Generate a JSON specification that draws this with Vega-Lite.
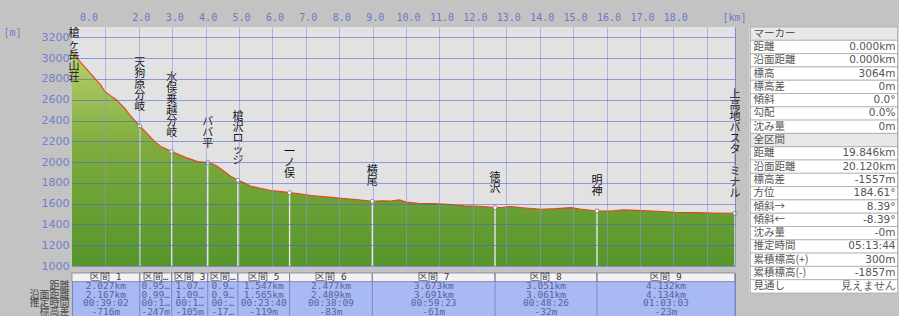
{
  "$schema": "https://vega.github.io/schema/vega-lite/v6.json",
  "background": "#c3c3c3",
  "padding": 0,
  "spacing": 3,
  "config": {"view": {"stroke": null}, "font": "DejaVu Sans"},
  "datasets": {
    "profile": [
      {"km": 0, "elev": 3064}, {"km": 0.1, "elev": 3025}, {"km": 0.22, "elev": 2973}, {"km": 0.45, "elev": 2890},
      {"km": 0.67, "elev": 2811}, {"km": 0.85, "elev": 2745}, {"km": 0.97, "elev": 2683}, {"km": 1.15, "elev": 2640},
      {"km": 1.32, "elev": 2603}, {"km": 1.47, "elev": 2554}, {"km": 1.6, "elev": 2510}, {"km": 1.72, "elev": 2458},
      {"km": 1.88, "elev": 2400}, {"km": 2.027, "elev": 2348}, {"km": 2.2, "elev": 2290}, {"km": 2.37, "elev": 2232},
      {"km": 2.5, "elev": 2190}, {"km": 2.66, "elev": 2151}, {"km": 2.8, "elev": 2128}, {"km": 2.985, "elev": 2101},
      {"km": 3.2, "elev": 2072}, {"km": 3.46, "elev": 2038}, {"km": 3.76, "elev": 2006}, {"km": 4.063, "elev": 1996},
      {"km": 4.2, "elev": 1985}, {"km": 4.36, "elev": 1958}, {"km": 4.56, "elev": 1910}, {"km": 4.75, "elev": 1865},
      {"km": 4.966, "elev": 1825}, {"km": 5.15, "elev": 1800}, {"km": 5.36, "elev": 1768}, {"km": 5.6, "elev": 1750},
      {"km": 5.96, "elev": 1726}, {"km": 6.2, "elev": 1718}, {"km": 6.513, "elev": 1706}, {"km": 6.8, "elev": 1695},
      {"km": 7.16, "elev": 1678}, {"km": 7.6, "elev": 1665}, {"km": 8.05, "elev": 1652}, {"km": 8.5, "elev": 1640},
      {"km": 8.99, "elev": 1623}, {"km": 9.3, "elev": 1628}, {"km": 9.55, "elev": 1626}, {"km": 9.8, "elev": 1636},
      {"km": 10.0, "elev": 1615}, {"km": 10.35, "elev": 1604}, {"km": 10.8, "elev": 1600}, {"km": 11.25, "elev": 1594},
      {"km": 11.75, "elev": 1579}, {"km": 12.2, "elev": 1575}, {"km": 12.663, "elev": 1562}, {"km": 12.9, "elev": 1566},
      {"km": 13.14, "elev": 1572}, {"km": 13.5, "elev": 1560}, {"km": 14.04, "elev": 1546}, {"km": 14.5, "elev": 1552},
      {"km": 14.94, "elev": 1562}, {"km": 15.2, "elev": 1548}, {"km": 15.714, "elev": 1530}, {"km": 16.2, "elev": 1532},
      {"km": 16.5, "elev": 1540}, {"km": 17.04, "elev": 1533}, {"km": 17.5, "elev": 1527}, {"km": 18.03, "elev": 1517},
      {"km": 18.6, "elev": 1514}, {"km": 19.2, "elev": 1510}, {"km": 19.846, "elev": 1507}
    ],
    "waypoints": [
      {"name": "槍ヶ岳山荘", "km": 0, "elev": 3064},
      {"name": "天狗原分岐", "km": 2.027, "elev": 2348},
      {"name": "水俣乗越分岐", "km": 2.985, "elev": 2101},
      {"name": "ババ平", "km": 4.063, "elev": 1996},
      {"name": "槍沢ロッジ", "km": 4.966, "elev": 1825},
      {"name": "一ノ俣", "km": 6.513, "elev": 1706},
      {"name": "横尾", "km": 8.99, "elev": 1623},
      {"name": "徳沢", "km": 12.663, "elev": 1562},
      {"name": "明神", "km": 15.714, "elev": 1530},
      {"name": "上高地バスターミナル", "km": 19.846, "elev": 1507}
    ],
    "segments": [
      {"label": "区間 1", "start": 0, "end": 2.027, "dist": "2.027km", "surf": "2.167km", "time": "00:39:02", "diff": "-716m"},
      {"label": "区間 2", "start": 2.027, "end": 2.985, "dist": "0.958km", "surf": "0.996km", "time": "00:13:45", "diff": "-247m"},
      {"label": "区間 3", "start": 2.985, "end": 4.063, "dist": "1.078km", "surf": "1.092km", "time": "00:16:04", "diff": "-105m"},
      {"label": "区間 4", "start": 4.063, "end": 4.966, "dist": "0.903km", "surf": "0.923km", "time": "00:12:12", "diff": "-171m"},
      {"label": "区間 5", "start": 4.966, "end": 6.513, "dist": "1.547km", "surf": "1.565km", "time": "00:23:40", "diff": "-119m"},
      {"label": "区間 6", "start": 6.513, "end": 8.99, "dist": "2.477km", "surf": "2.489km", "time": "00:38:09", "diff": "-83m"},
      {"label": "区間 7", "start": 8.99, "end": 12.663, "dist": "3.673km", "surf": "3.691km", "time": "00:59:23", "diff": "-61m"},
      {"label": "区間 8", "start": 12.663, "end": 15.714, "dist": "3.051km", "surf": "3.061km", "time": "00:48:26", "diff": "-32m"},
      {"label": "区間 9", "start": 15.714, "end": 19.846, "dist": "4.132km", "surf": "4.134km", "time": "01:03:03", "diff": "-23m"}
    ],
    "panel": [
      {"slot": 0, "kind": "h", "label": "マーカー", "value": ""},
      {"slot": 1, "kind": "r", "label": "距離", "value": "0.000km"},
      {"slot": 2, "kind": "r", "label": "沿面距離", "value": "0.000km"},
      {"slot": 3, "kind": "r", "label": "標高", "value": "3064m"},
      {"slot": 4, "kind": "r", "label": "標高差", "value": "0m"},
      {"slot": 5, "kind": "r", "label": "傾斜", "value": "0.0°"},
      {"slot": 6, "kind": "r", "label": "勾配", "value": "0.0%"},
      {"slot": 7, "kind": "r", "label": "沈み量", "value": "0m"},
      {"slot": 8, "kind": "h", "label": "全区間", "value": ""},
      {"slot": 9, "kind": "r", "label": "距離", "value": "19.846km"},
      {"slot": 10, "kind": "r", "label": "沿面距離", "value": "20.120km"},
      {"slot": 11, "kind": "r", "label": "標高差", "value": "-1557m"},
      {"slot": 12, "kind": "r", "label": "方位", "value": "184.61°"},
      {"slot": 13, "kind": "r", "label": "傾斜→", "value": "8.39°"},
      {"slot": 14, "kind": "r", "label": "傾斜←", "value": "-8.39°"},
      {"slot": 15, "kind": "r", "label": "沈み量", "value": "-0m"},
      {"slot": 16, "kind": "r", "label": "推定時間", "value": "05:13:44"},
      {"slot": 17, "kind": "r", "label": "累積標高(+)", "value": "300m"},
      {"slot": 18, "kind": "r", "label": "累積標高(-)", "value": "-1857m"},
      {"slot": 19, "kind": "r", "label": "見通し", "value": "見えません"}
    ]
  },
  "hconcat": [
    {
      "spacing": 0,
      "vconcat": [
        {
          "width": 663,
          "height": 239,
          "view": {"fill": "#e2e2e2", "stroke": null},
          "encoding": {
            "x": {
              "field": "km", "type": "quantitative",
              "scale": {"domain": [0, 19.846], "nice": false, "zero": false},
              "axis": {
                "orient": "top",
                "values": [1, 2, 3, 4, 5, 6, 7, 8, 9, 10, 11, 12, 13, 14, 15, 16, 17, 18, 19, 19.846],
                "labelExpr": "datum.value == 1 ? '0.0' : (datum.value > 18.5 ? '' : format(datum.value, '.1f'))",
                "labelFont": "DejaVu Sans Mono", "labelFontSize": 10, "labelColor": "#6a78c8",
                "labelPadding": 5, "labelFlush": false, "labelOverlap": false,
                "labelOffset": {"condition": {"test": "datum.value == 1", "value": -17}, "value": 2},
                "ticks": false, "domain": false, "grid": true,
                "gridColor": {"condition": {"test": "datum.value > 19.5", "value": "#5a64c0"}, "value": "#8a94dc"},
                "gridOpacity": 0.6,
                "title": "[km]", "titleX": 674, "titleY": -10, "titleAlign": "right", "titleBaseline": "middle",
                "titleAngle": 0, "titleFont": "DejaVu Sans Mono", "titleFontSize": 10, "titleFontWeight": "normal",
                "titleColor": "#6a78c8",
                "minExtent": 27, "maxExtent": 27, "zindex": 1
              }
            },
            "y": {
              "field": "elev", "type": "quantitative",
              "scale": {"domain": [1000, 3300], "nice": false, "zero": false},
              "axis": {
                "values": [1000, 1200, 1400, 1600, 1800, 2000, 2200, 2400, 2600, 2800, 3000, 3200],
                "format": "d",
                "labelFont": "DejaVu Sans", "labelFontSize": 11, "labelColor": "#7080cc",
                "labelPadding": 3, "labelOverlap": false, "labelFlush": false,
                "ticks": false, "domain": false, "grid": true,
                "gridColor": "#4c5cd0", "gridOpacity": 0.55,
                "title": "[m]", "titleAngle": 0, "titleX": -60, "titleY": 5, "titleAlign": "center",
                "titleBaseline": "middle", "titleFont": "DejaVu Sans Mono", "titleFontSize": 10,
                "titleFontWeight": "normal", "titleColor": "#7080cc",
                "minExtent": 71, "maxExtent": 71, "zindex": 1
              }
            }
          },
          "layer": [
            {
              "data": {"name": "profile"},
              "mark": {
                "type": "area",
                "color": {
                  "gradient": "linear", "x1": 0, "y1": 0, "x2": 0, "y2": 1,
                  "stops": [
                    {"offset": 0, "color": "#b8d26c"},
                    {"offset": 0.45, "color": "#7eab3c"},
                    {"offset": 1, "color": "#55952c"}
                  ]
                }
              },
              "encoding": {"y2": {"datum": 1000}}
            },
            {
              "data": {"name": "profile"},
              "mark": {"type": "line", "color": "#e8401c", "strokeWidth": 1.1},
              "encoding": {}
            },
            {
              "data": {"name": "waypoints"},
              "transform": [{"filter": "datum.km > 0"}],
              "mark": {"type": "rule", "color": "#e6e6e6", "strokeWidth": 1.4},
              "encoding": {"y2": {"datum": 1000}}
            },
            {
              "data": {"name": "waypoints"},
              "transform": [{"filter": "datum.km > 0"}],
              "mark": {"type": "point", "shape": "circle", "filled": true, "fill": "#ffffff", "stroke": "#777777", "strokeWidth": 0.8, "size": 16, "opacity": 1},
              "encoding": {}
            },
            {
              "data": {"name": "waypoints"},
              "transform": [
                {"filter": "datum.km > 0"},
                {"calculate": "split(replace(datum.name, 'ー', '｜'), '')", "as": "lbl"}
              ],
              "mark": {"type": "text", "baseline": "top", "align": "center", "dy": {"expr": "-14 - length(datum.lbl) * 11"}, "font": "Noto Sans CJK JP", "fontSize": 11, "lineHeight": 11, "color": "#111111"},
              "encoding": {"text": {"field": "lbl", "type": "nominal"}}
            },
            {
              "data": {"name": "waypoints"},
              "transform": [
                {"filter": "datum.km == 0"},
                {"calculate": "split(datum.name, '')", "as": "lbl"}
              ],
              "mark": {"type": "text", "baseline": "top", "align": "center", "dx": 2, "dy": 1, "font": "Noto Sans CJK JP", "fontSize": 11, "lineHeight": 11, "color": "#111111"},
              "encoding": {"y": {"datum": 3300}, "text": {"field": "lbl", "type": "nominal"}}
            }
          ]
        },
        {
          "width": 663,
          "height": 43,
          "view": {"fill": "#a9b9f5", "stroke": "#7b84b8"},
          "layer": [
            {
              "data": {"name": "segments"},
              "mark": {"type": "rect", "fill": "#f3f3f3", "stroke": "#6f7090", "strokeWidth": 0.7},
              "encoding": {
                "x": {"field": "start", "type": "quantitative", "scale": {"domain": [0, 19.846], "nice": false, "zero": false}, "axis": null},
                "x2": {"field": "end"},
                "y": {"datum": "label", "type": "nominal"}
              }
            },
            {
              "data": {"name": "segments"},
              "mark": {"type": "rule", "color": "#8088bc", "strokeWidth": 1},
              "encoding": {"x": {"field": "end", "type": "quantitative"}}
            },
            {
              "data": {"name": "segments"},
              "transform": [
                {"calculate": "(datum.start + datum.end) / 2", "as": "mid"},
                {"fold": ["label", "dist", "surf", "time", "diff"], "as": ["row", "txt"]}
              ],
              "mark": {"type": "text", "font": "DejaVu Sans Mono", "fontSize": 9.5, "baseline": "middle", "align": "center", "limit": {"expr": "(datum.end - datum.start) * 33.4 - 2"}, "ellipsis": ""},
              "encoding": {
                "x": {"field": "mid", "type": "quantitative"},
                "y": {"field": "row", "type": "nominal"},
                "text": {"field": "txt", "type": "nominal"},
                "color": {"condition": {"test": "datum.row == 'label'", "value": "#3a3a4a"}, "value": "#58639a"}
              }
            }
          ],
          "encoding": {
            "y": {
              "scale": {"domain": ["label", "dist", "surf", "time", "diff"], "paddingInner": 0, "paddingOuter": 0},
              "axis": {
                "title": null, "ticks": false, "domain": false, "grid": false,
                "labelExpr": "datum.value == 'dist' ? '距離' : datum.value == 'surf' ? '沿面距離' : datum.value == 'time' ? '推定時間' : datum.value == 'diff' ? '標高差' : ''",
                "labelFont": "Noto Sans CJK JP", "labelFontSize": 10, "labelColor": "#4a4a4a", "labelPadding": 3,
                "minExtent": 71, "maxExtent": 71
              }
            }
          }
        }
      ]
    },
    {
      "width": 150,
      "height": 266,
      "view": {"fill": "#d6d6d6", "stroke": null},
      "data": {"name": "panel"},
      "encoding": {
        "y": {"field": "slot", "type": "ordinal", "scale": {"paddingInner": 0, "paddingOuter": 0}, "axis": null}
      },
      "layer": [
        {
          "mark": {"type": "rect", "stroke": "#a4a4a4", "strokeWidth": 0.7},
          "encoding": {
            "x": {"datum": 0.01, "type": "quantitative", "scale": {"domain": [0, 1]}, "axis": null},
            "x2": {"datum": 0.99},
            "fill": {"field": "kind", "type": "nominal", "scale": {"domain": ["h", "r"], "range": ["#e8e8e8", "#ffffff"]}, "legend": null}
          }
        },
        {
          "mark": {"type": "text", "align": "left", "baseline": "middle", "dx": 3, "font": "Noto Sans CJK JP", "fontSize": 10.5, "color": "#555555"},
          "encoding": {"x": {"datum": 0.01, "type": "quantitative"}, "text": {"field": "label", "type": "nominal"}}
        },
        {
          "mark": {"type": "text", "align": "right", "baseline": "middle", "dx": -2, "font": "DejaVu Sans", "fontSize": 10.5, "color": "#555555"},
          "encoding": {"x": {"datum": 0.99, "type": "quantitative"}, "text": {"field": "value", "type": "nominal"}}
        }
      ]
    }
  ]
}
